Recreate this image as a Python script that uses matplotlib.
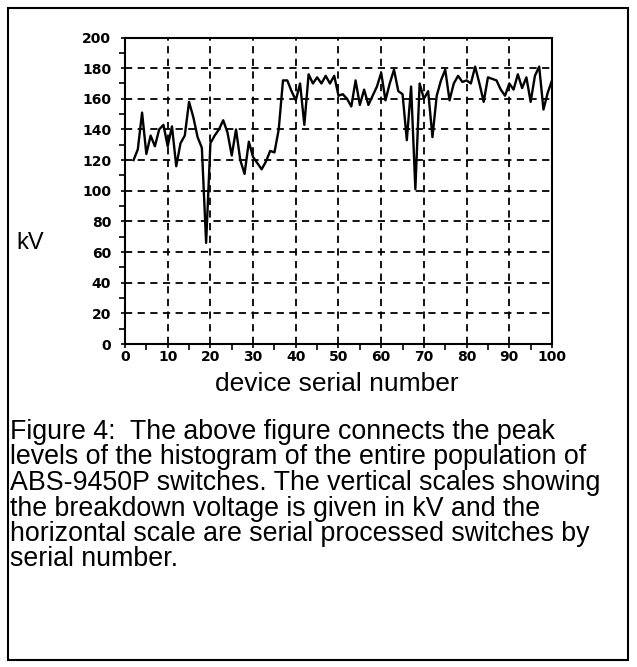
import matplotlib
matplotlib.use("Agg")
import matplotlib.pyplot as plt
from matplotlib.patches import Rectangle
from matplotlib.ticker import MultipleLocator

# breakdown voltage peak (kV) per device serial number
serials = list(range(2, 101))
peak_kv = [
    120, 127, 151, 124, 136, 129, 140, 143, 129, 142,   # 2-11
    116, 131, 136, 158, 148, 135, 128, 66, 131, 136,    # 12-21
    140, 146, 138, 123, 140, 120, 111, 132, 122, 118,   # 22-31
    114, 119, 126, 125, 140, 172, 172, 165, 159, 170,   # 32-41
    143, 176, 170, 174, 170, 175, 170, 175, 162, 163,   # 42-51
    160, 155, 172, 156, 166, 156, 162, 168, 177, 159,   # 52-61
    170, 179, 165, 163, 133, 168, 101, 170, 160, 165,   # 62-71
    135, 162, 172, 179, 159, 170, 175, 171, 172, 170,   # 72-81
    181, 170, 158, 174, 173, 172, 166, 162, 170, 166,   # 82-91
    176, 167, 174, 158, 175, 181, 153, 164, 172,        # 92-100
]

x_ticks = list(range(0, 101, 10))
y_ticks = list(range(0, 201, 20))

caption = (
    "Figure 4:  The above figure connects the peak\n"
    "levels of the histogram of the entire population of\n"
    "ABS-9450P switches. The vertical scales showing\n"
    "the breakdown voltage is given in kV and the\n"
    "horizontal scale are serial processed switches by\n"
    "serial number."
)

W, H = 637, 667
fig = plt.figure(figsize=(W / 100, H / 100), dpi=100)

# frame around the whole figure + caption
fig.add_artist(Rectangle((8 / W, 1 - 660 / H), 620 / W, 652 / H,
                         transform=fig.transFigure, fill=False,
                         lw=1.5, color="black"))

ax = fig.add_axes([125 / W, 1 - 344 / H, 427 / W, 306.5 / H])
ax.plot(serials, peak_kv, color="black", lw=1.7)

ax.set_xlim(0, 100)
ax.set_ylim(0, 200)
ax.set_xticks(x_ticks)
ax.set_yticks(y_ticks)
ax.xaxis.set_minor_locator(MultipleLocator(5))
ax.yaxis.set_minor_locator(MultipleLocator(10))
ax.grid(True, which="major", color="black", linestyle=(0, (4, 3)), lw=1.3)
for s in ax.spines.values():
    s.set_linewidth(1.5)
ax.tick_params(which="both", direction="out", width=1.2, colors="black")
ax.tick_params(which="major", length=3)
ax.tick_params(which="minor", length=4)
ax.tick_params(axis="y", which="major", pad=7)
ax.tick_params(axis="x", which="major", pad=1.5)
for lab in ax.get_xticklabels() + ax.get_yticklabels():
    lab.set_fontfamily("DejaVu Sans")
    lab.set_fontweight("bold")
    lab.set_fontsize(10)

fig.text(30 / W, 1 - 243 / H, "kV", fontsize=17, family="Liberation Sans",
         ha="center", va="center")
fig.text(337 / W, 1 - 384 / H, "device serial number", fontsize=19,
         family="Liberation Sans", ha="center", va="center")
fig.text(10 / W, 1 - 419 / H, caption, fontsize=19.3, family="Liberation Sans",
         ha="left", va="top", linespacing=0.975)

fig.savefig("out.png", dpi=100)
